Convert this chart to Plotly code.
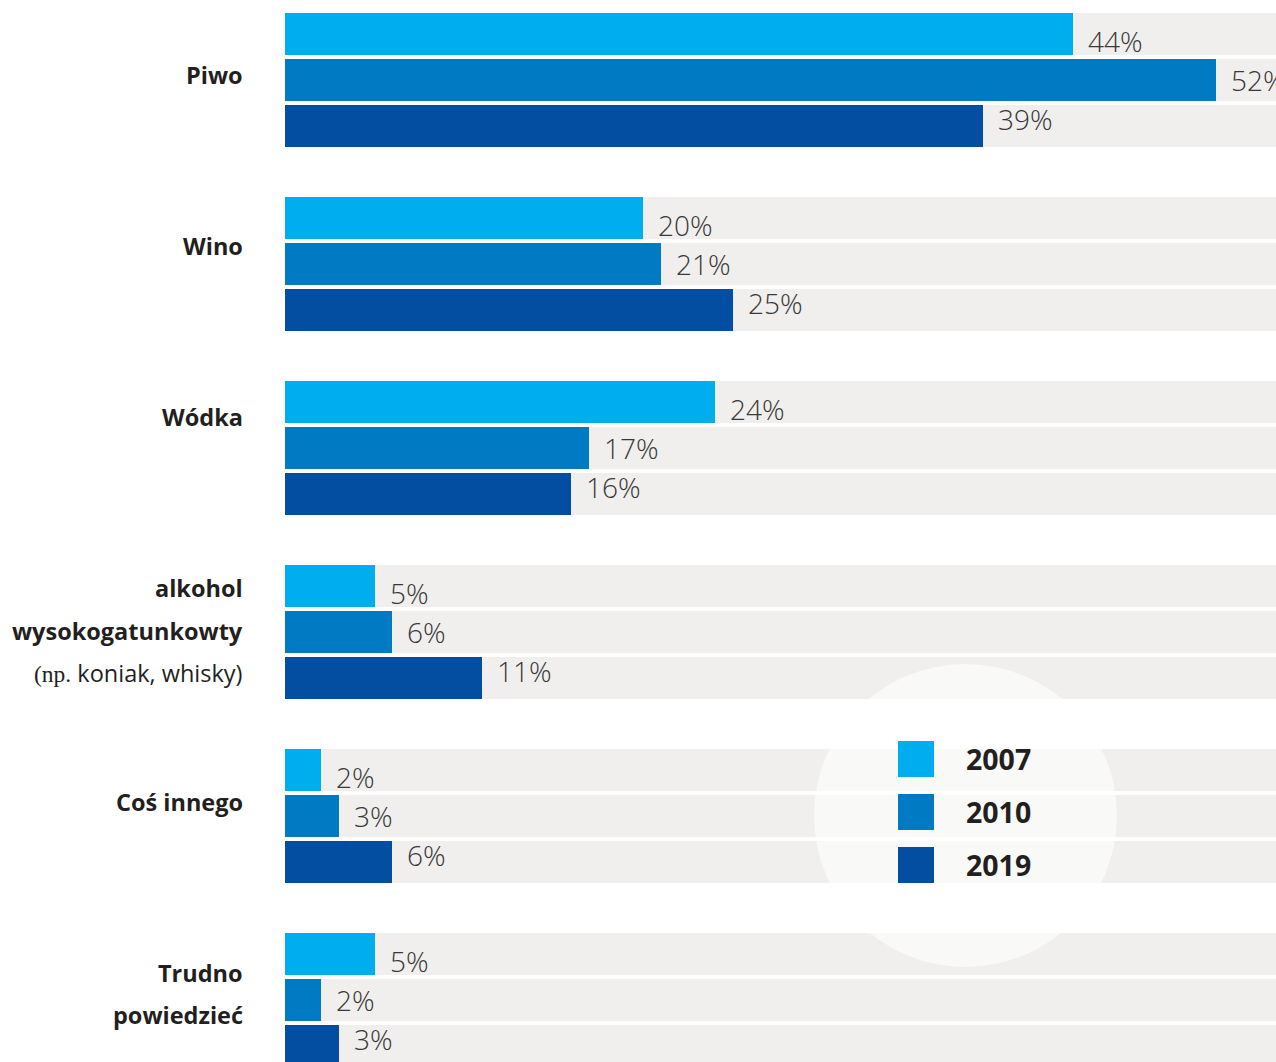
import plotly.graph_objects as go

# ---- data ----
categories = ["Piwo", "Wino", "Wódka", "alkohol wysokogatunkowy", "Coś innego", "Trudno powiedzieć"]
years = ["2007", "2010", "2019"]
values_2007 = [44, 20, 24, 5, 2, 5]
values_2010 = [52, 21, 17, 6, 3, 2]
values_2019 = [39, 25, 16, 11, 6, 3]
series = [values_2007, values_2010, values_2019]

# category label lines (html) and their pixel centers
label_lines = [
    [("Piwo", 75, True)],
    [("Wino", 246, True)],
    [("Wódka", 417, True)],
    [("alkohol", 588, True), ("wysokogatunkowty", 631, True),
     ('<span style="font-family:Liberation Serif">(np.</span> koniak, whisky)', 673, False)],
    [("Coś innego", 802, True)],
    [("Trudno", 973, True), ("powiedzieć", 1015, True)],
]

# ---- style ----
W, H = 1276, 1062
colors = ["#00aeef", "#007ac2", "#034ea1"]
track_color = "#f0efed"
PX_PER_PCT = 17.9
PLOT_X0 = 285
SLOT = 46.0
BAR_PX = 42.0
FIRST_CENTER = 34.0

x_max = (W - PLOT_X0) / PX_PER_PCT
y_top = (0 - FIRST_CENTER) / SLOT
y_bottom = (H - FIRST_CENTER) / SLOT

fig = go.Figure()

# positions of bars: each group occupies 4 slots (3 bars + gap)
all_pos = [4 * g + j for g in range(len(categories)) for j in range(len(years))]

# background tracks
fig.add_trace(go.Bar(
    x=[x_max * 1.2] * len(all_pos), y=all_pos, orientation="h",
    width=BAR_PX / SLOT, marker=dict(color=track_color, line=dict(width=0)),
    hoverinfo="skip", showlegend=False,
))

for j, (yr, vals, col) in enumerate(zip(years, series, colors)):
    ys = [4 * g + j for g in range(len(categories))]
    fig.add_trace(go.Bar(
        x=vals, y=ys, orientation="h", name=yr,
        width=BAR_PX / SLOT, marker=dict(color=col, line=dict(width=0)),
        showlegend=False,
    ))

annotations = []
yshifts = [-7, 0, 7]
for j, vals in enumerate(series):
    for g, v in enumerate(vals):
        annotations.append(dict(
            x=v, y=4 * g + j, xref="x", yref="y", text=f"{v}%",
            xanchor="left", yanchor="middle", xshift=13, yshift=yshifts[j],
            showarrow=False,
            font=dict(family="Open Sans", size=28, color="#383838", weight=300),
        ))

for lines in label_lines:
    for txt, py, bold in lines:
        annotations.append(dict(
            x=245 / W, y=1 - py / H, xref="paper", yref="paper", text=txt,
            xanchor="right", yanchor="middle", showarrow=False,
            font=dict(family="Open Sans", size=23.5, color="#231f20",
                      weight=700 if bold else 400),
        ))

shapes = [dict(
    type="circle", xref="paper", yref="paper", layer="above",
    x0=814 / W, x1=1117 / W, y0=1 - 967 / H, y1=1 - 664 / H,
    fillcolor="rgba(255,255,255,0.6)", line=dict(width=0),
)]

legend_tops = [741, 794, 847]
for yr, col, top in zip(years, colors, legend_tops):
    shapes.append(dict(
        type="rect", xref="paper", yref="paper", layer="above",
        x0=898 / W, x1=934 / W, y0=1 - (top + 36) / H, y1=1 - top / H,
        fillcolor=col, line=dict(width=0),
    ))
    annotations.append(dict(
        x=964 / W, y=1 - (top + 18) / H, xref="paper", yref="paper", text=yr,
        xanchor="left", yanchor="middle", showarrow=False,
        font=dict(family="Open Sans", size=28.5, color="#231f20", weight=700),
    ))

fig.update_layout(
    width=W, height=H,
    margin=dict(l=0, r=0, t=0, b=0),
    paper_bgcolor="white", plot_bgcolor="white",
    barmode="overlay", bargap=0,
    xaxis=dict(domain=[PLOT_X0 / W, 1], range=[0, x_max], visible=False, fixedrange=True),
    yaxis=dict(range=[y_bottom, y_top], visible=False, fixedrange=True),
    annotations=annotations, shapes=shapes,
    showlegend=False,
)

fig.write_html("out.html")
